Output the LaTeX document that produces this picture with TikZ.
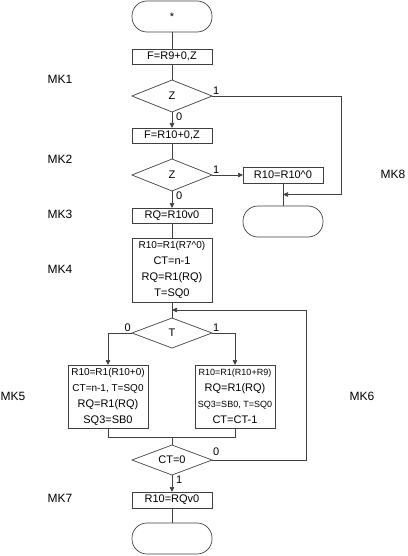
\documentclass[tikz,border=0pt]{standalone}
\usepackage{fontspec}
\setmainfont{Liberation Sans}
\usepackage{tikz}
\usetikzlibrary{arrows.meta,calc,positioning,shapes.geometric}
\usepackage{xcolor}
\definecolor{flowgray}{HTML}{404040}

\begin{document}
\begin{tikzpicture}[
  x=1pt,y=-1pt,
  font=\fontsize{11}{16}\selectfont,
  >={Triangle[length=5pt,width=4.5pt]},
  edge/.style={draw=flowgray,line width=0.7pt},
  flow/.style={edge,->},
  term/.style={draw=flowgray,line width=0.7pt,rounded corners=15pt,outer sep=0pt,
               minimum width=80pt,minimum height=31pt,inner sep=0pt},
  op/.style={draw=flowgray,line width=0.7pt,align=center,outer sep=0pt,
             minimum width=80pt,minimum height=15pt,inner sep=0pt},
  cond/.style={draw=flowgray,line width=0.7pt,diamond,aspect=2.5,outer sep=0pt,
               minimum width=80pt,minimum height=32pt,inner sep=0pt},
  bit/.style={inner sep=1pt},
  mk/.style={font=\fontsize{12}{14}\selectfont}
]
\useasboundingbox (0,0) rectangle (407,556);

\node[term] (start) at (172,16.5) {*};
\node[op,below=17pt of start] (fzero) {F=R9+0,Z};
\node[cond,below=16pt of fzero] (zone) {Z};
\node[op,below=16pt of zone] (ften) {F=R10+0,Z};
\node[cond,below=16pt of ften] (ztwo) {Z};
\node[op,below=17pt of ztwo] (rq) {RQ=R10v0};
\node[op,below=15pt of rq,minimum height=64pt] (init)
  {{\fontsize{10}{16}\selectfont R10=R1(R7\textasciicircum0)}\\CT=n-1\\RQ=R1(RQ)\\T=SQ0};
\node[cond,below=16pt of init,minimum height=30pt] (t) {T};
\node[op,below=17pt of t,xshift=-64pt,minimum height=63pt] (tzero)
  {{\fontsize{10}{16}\selectfont R10=R1(R10+0)}\\
   {\fontsize{10}{16}\selectfont CT=n-1, T=SQ0}\\RQ=R1(RQ)\\SQ3=SB0};
\node[op,below=17pt of t,xshift=63pt,minimum height=63pt] (tone)
  {{\fontsize{9}{16}\selectfont R10=R1(R10+R9)}\\RQ=R1(RQ)\\
   {\fontsize{9}{16}\selectfont SQ3=SB0, T=SQ0}\\CT=CT-1};
\node[cond,below=97pt of t,minimum height=30pt] (ct) {CT=0};
\node[op,below=17pt of ct,minimum height=16pt] (res) {R10=RQv0};
\node[term,below=15pt of res] (stop) {};
\node[op,right=31pt of ztwo,minimum height=16pt] (clr) {R10=R10\textasciicircum0};
\node[term,below=23pt of clr] (alt) {};

% branch values
\node[bit,anchor=south west] (zoneyes) at (zone.east) {1};
\node[bit,anchor=north west,xshift=3pt] (zoneno) at (zone.south) {0};
\node[bit,anchor=south west] (ztwoyes) at (ztwo.east) {1};
\node[bit,anchor=north west,xshift=3pt] (ztwono) at (ztwo.south) {0};
\node[bit,anchor=south east] (tno) at (t.west) {0};
\node[bit,anchor=south west] (tyes) at (t.east) {1};
\node[bit,anchor=south west,yshift=3pt] (ctno) at (ct.east) {0};
\node[bit,anchor=north west,xshift=3pt] (ctyes) at (ct.south) {1};

% microcommand marks
\node[mk] (mkone) at (60,79) {MK1};
\node[mk] (mktwo) at (60,159) {MK2};
\node[mk] (mkthree) at (60,214) {MK3};
\node[mk] (mkfour) at (60,269) {MK4};
\node[mk] (mkfive) at (13,396) {MK5};
\node[mk] (mksix) at (362,396) {MK6};
\node[mk] (mkseven) at (60,498) {MK7};
\node[mk] (mkeight) at (393,174) {MK8};

\draw[edge] (start) -- (fzero);
\draw[edge] (fzero) -- (zone);
\draw[flow] (zone) -- (ften);
\draw[edge] (ften) -- (ztwo);
\draw[flow] (ztwo) -- (rq);
\draw[flow] (ztwo) -- (clr);
\draw[edge] (clr) -- (alt);
\coordinate (altin) at ($(clr.south)!0.5!(alt.north)$);
\coordinate (skipx) at (341,0);
\draw[flow] (zone.east) -| (skipx |- altin) -- (altin);
\draw[edge] (rq) -- (init);
\draw[edge] (init) -- (t);
\draw[flow] (t.west) -| (tzero);
\draw[flow] (t.east) -| (tone);
\coordinate[below=9pt of tzero.south] (jzero);
\draw[edge] (tzero) -- (jzero) -- (jzero -| tone) -- (tone);
\draw[edge] (jzero -| ct) -- (ct);
\draw[flow] (ct) -- (res);
\draw[edge] (res) -- (stop);
\coordinate (back) at ($(init.south)!0.5!(t.north)$);
\coordinate (loopx) at (306,0);
\draw[flow] (ct.east) -| (loopx |- back) -- (back);
\end{tikzpicture}
\end{document}
